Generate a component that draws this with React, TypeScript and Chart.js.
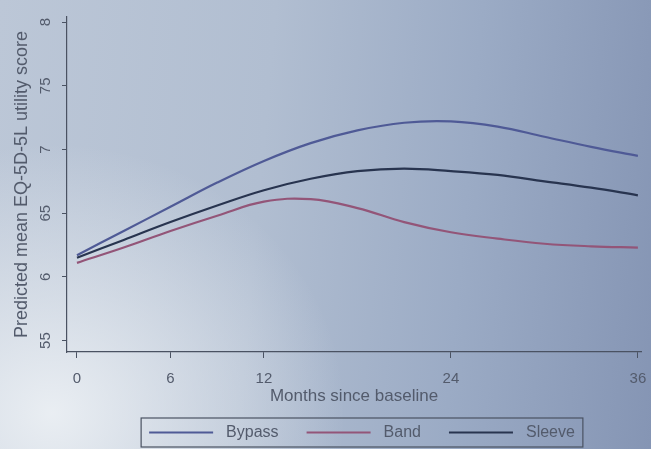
import React, { useEffect, useRef } from "react";
import { Chart, registerables } from "chart.js";

Chart.register(...registerables);

// ---- data ----
const months = [0, 3, 6, 9, 12, 15, 18, 21, 24, 27, 30, 33, 36];
const bypass = [0.617, 0.636, 0.655, 0.674, 0.691, 0.705, 0.715, 0.721, 0.722, 0.718, 0.71, 0.702, 0.695];
const band = [0.611, 0.623, 0.636, 0.648, 0.659, 0.661, 0.654, 0.643, 0.635, 0.63, 0.626, 0.624, 0.623];
const sleeve = [0.615, 0.629, 0.643, 0.656, 0.668, 0.677, 0.683, 0.685, 0.683, 0.68, 0.675, 0.67, 0.664];

const seriesLabels = ["Bypass", "Band", "Sleeve"];
const seriesColors = ["#4f5a96", "#935578", "#28344f"];

const xTickValues = [0, 6, 12, 24, 36];
const xTickLabels = ["0", "6", "12", "24", "36"];
const yTickValues = [0.55, 0.6, 0.65, 0.7, 0.75, 0.8];
const yTickLabels = ["55", "6", "65", "7", "75", "8"];

const xTitle = "Months since baseline";
const yTitle = "Predicted mean EQ-5D-5L utility score";

const FONT = '"Liberation Sans", Arial, sans-serif';
const TEXT = "#535b6c";
const AXIS = "#4a5262";

const boxLegend = {
  id: "boxLegend",
  afterDraw(chart: any) {
    const ctx = chart.ctx;
    ctx.save();
    ctx.font = `16px ${FONT}`;
    const lineW = 64;
    const gapLT = 13;
    const gapItem = 28;
    const padX = 8;
    const widths = seriesLabels.map((t) => ctx.measureText(t).width);
    let total = padX * 2 + gapItem * (seriesLabels.length - 1);
    widths.forEach((w) => (total += lineW + gapLT + w));
    const cx = (chart.chartArea.left + chart.chartArea.right) / 2 + 8;
    const left = cx - total / 2;
    const h = 29;
    const top = chart.height - h - 2;
    ctx.strokeStyle = AXIS;
    ctx.lineWidth = 1.2;
    ctx.strokeRect(left, top, total, h);
    let x = left + padX;
    const cy = top + h / 2;
    seriesLabels.forEach((t, i) => {
      ctx.strokeStyle = seriesColors[i];
      ctx.lineWidth = 2;
      ctx.beginPath();
      ctx.moveTo(x, cy);
      ctx.lineTo(x + lineW, cy);
      ctx.stroke();
      x += lineW + gapLT;
      ctx.fillStyle = TEXT;
      ctx.textBaseline = "middle";
      ctx.textAlign = "left";
      ctx.fillText(t, x, cy);
      x += widths[i] + gapItem;
    });
    ctx.restore();
  },
};

export default function App() {
  const ref = useRef<HTMLCanvasElement>(null);

  useEffect(() => {
    document.body.style.margin = "0";
    const series = [bypass, band, sleeve];
    const chart = new Chart(ref.current!, {
      type: "line",
      data: {
        datasets: series.map((s, i) => ({
          label: seriesLabels[i],
          data: months.map((m, j) => ({ x: m, y: s[j] })),
          borderColor: seriesColors[i],
          backgroundColor: seriesColors[i],
          borderWidth: 2.2,
          pointRadius: 0,
          tension: 0.4,
          fill: false,
        })),
      },
      options: {
        responsive: false,
        animation: false,
        layout: { padding: { top: 12, right: 21, bottom: 40, left: 0 } },
        plugins: { legend: { display: false }, tooltip: { enabled: false } },
        scales: {
          x: {
            type: "linear",
            min: -0.64,
            max: 36.2,
            afterBuildTicks: (s: any) => {
              s.ticks = xTickValues.map((v) => ({ value: v }));
            },
            afterFit: (s: any) => {
              s.height = 57;
            },
            ticks: {
              autoSkip: false,
              maxRotation: 0,
              padding: 12,
              color: TEXT,
              font: { family: FONT, size: 15 },
              callback: (_v: any, i: number) => xTickLabels[i],
            },
            grid: { display: true, drawOnChartArea: false, drawTicks: true, tickLength: 6, color: AXIS },
            border: { display: true, color: AXIS, width: 1.2 },
            title: {
              display: true,
              text: xTitle,
              color: TEXT,
              font: { family: FONT, size: 17 },
              padding: { top: 0, bottom: 2 },
            },
          },
          y: {
            type: "linear",
            min: 0.541,
            max: 0.804,
            afterBuildTicks: (s: any) => {
              s.ticks = yTickValues.map((v) => ({ value: v }));
            },
            afterFit: (s: any) => {
              s.width = 67;
            },
            ticks: {
              autoSkip: false,
              minRotation: 90,
              maxRotation: 90,
              crossAlign: "center",
              padding: 8,
              color: TEXT,
              font: { family: FONT, size: 15 },
              callback: (_v: any, i: number) => yTickLabels[i],
            },
            grid: { display: true, drawOnChartArea: false, drawTicks: true, tickLength: 5, color: AXIS },
            border: { display: true, color: AXIS, width: 1.2 },
            title: {
              display: true,
              text: yTitle,
              color: TEXT,
              font: { family: FONT, size: 18 },
              padding: { top: 11, bottom: 0 },
            },
          },
        },
      },
      plugins: [boxLegend],
    } as any);
    return () => chart.destroy();
  }, []);

  return (
    <div
      style={{
        position: "fixed",
        left: 0,
        top: 0,
        width: 651,
        height: 449,
        overflow: "hidden",
        background:
          "radial-gradient(ellipse 45% 60% at 8% 92%, rgba(236,240,244,0.95) 0%, rgba(236,240,244,0) 100%), linear-gradient(95deg, #bcc7d7 0%, #b1bed1 40%, #9babc5 70%, #8595b4 100%)",
      }}
    >
      <canvas ref={ref} width={662} height={449} style={{ display: "block" }} />
    </div>
  );
}
